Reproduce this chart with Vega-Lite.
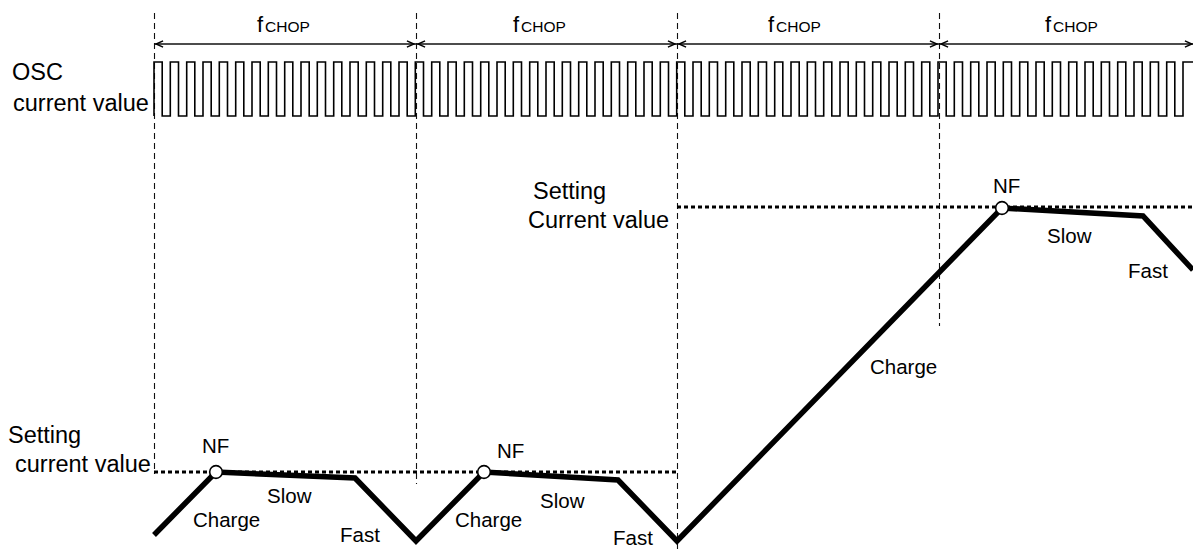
{
  "$schema": "https://vega.github.io/schema/vega-lite/v6.json",
  "width": 1193,
  "height": 550,
  "padding": 0,
  "autosize": {"type": "none"},
  "background": "white",
  "config": {"view": {"stroke": null}},
  "datasets": {
    "wave": [
      {"x":154,"y":116},{"x":154,"y":62},{"x":162.2,"y":116},{"x":170.3,"y":62},{"x":178.5,"y":116},{"x":186.7,"y":62},{"x":194.8,"y":116},{"x":203.0,"y":62},{"x":211.2,"y":116},{"x":219.3,"y":62},{"x":227.5,"y":116},{"x":235.7,"y":62},{"x":243.8,"y":116},{"x":252.0,"y":62},{"x":260.2,"y":116},{"x":268.3,"y":62},{"x":276.5,"y":116},{"x":284.7,"y":62},{"x":292.8,"y":116},{"x":301.0,"y":62},{"x":309.2,"y":116},{"x":317.3,"y":62},{"x":325.5,"y":116},{"x":333.7,"y":62},{"x":341.8,"y":116},{"x":350.0,"y":62},{"x":358.2,"y":116},{"x":366.3,"y":62},{"x":374.5,"y":116},{"x":382.7,"y":62},{"x":390.8,"y":116},{"x":399.0,"y":62},{"x":407.2,"y":116},
      {"x":415.3,"y":62},{"x":423.5,"y":116},{"x":431.7,"y":62},{"x":439.8,"y":116},{"x":448.0,"y":62},{"x":456.2,"y":116},{"x":464.3,"y":62},{"x":472.5,"y":116},{"x":480.7,"y":62},{"x":488.8,"y":116},{"x":497.0,"y":62},{"x":505.2,"y":116},{"x":513.3,"y":62},{"x":521.5,"y":116},{"x":529.7,"y":62},{"x":537.8,"y":116},{"x":546.0,"y":62},{"x":554.2,"y":116},{"x":562.3,"y":62},{"x":570.5,"y":116},{"x":578.7,"y":62},{"x":586.8,"y":116},{"x":595.0,"y":62},{"x":603.2,"y":116},{"x":611.3,"y":62},{"x":619.5,"y":116},{"x":627.7,"y":62},{"x":635.8,"y":116},{"x":644.0,"y":62},{"x":652.2,"y":116},{"x":660.3,"y":62},{"x":668.5,"y":116},
      {"x":676.7,"y":62},{"x":684.8,"y":116},{"x":693.0,"y":62},{"x":701.2,"y":116},{"x":709.3,"y":62},{"x":717.5,"y":116},{"x":725.7,"y":62},{"x":733.8,"y":116},{"x":742.0,"y":62},{"x":750.2,"y":116},{"x":758.3,"y":62},{"x":766.5,"y":116},{"x":774.7,"y":62},{"x":782.8,"y":116},{"x":791.0,"y":62},{"x":799.2,"y":116},{"x":807.3,"y":62},{"x":815.5,"y":116},{"x":823.7,"y":62},{"x":831.8,"y":116},{"x":840.0,"y":62},{"x":848.2,"y":116},{"x":856.3,"y":62},{"x":864.5,"y":116},{"x":872.7,"y":62},{"x":880.8,"y":116},{"x":889.0,"y":62},{"x":897.2,"y":116},{"x":905.3,"y":62},{"x":913.5,"y":116},{"x":921.7,"y":62},{"x":929.8,"y":116},
      {"x":938.0,"y":62},{"x":946.2,"y":116},{"x":954.3,"y":62},{"x":962.5,"y":116},{"x":970.7,"y":62},{"x":978.8,"y":116},{"x":987.0,"y":62},{"x":995.2,"y":116},{"x":1003.3,"y":62},{"x":1011.5,"y":116},{"x":1019.7,"y":62},{"x":1027.8,"y":116},{"x":1036.0,"y":62},{"x":1044.2,"y":116},{"x":1052.3,"y":62},{"x":1060.5,"y":116},{"x":1068.7,"y":62},{"x":1076.8,"y":116},{"x":1085.0,"y":62},{"x":1093.2,"y":116},{"x":1101.3,"y":62},{"x":1109.5,"y":116},{"x":1117.7,"y":62},{"x":1125.8,"y":116},{"x":1134.0,"y":62},{"x":1142.2,"y":116},{"x":1150.3,"y":62},{"x":1158.5,"y":116},{"x":1166.7,"y":62},{"x":1174.8,"y":116},{"x":1183.0,"y":62},{"x":1193,"y":62}
    ],
    "vdash": [
      {"x":154.5,"y":13,"y2":474},
      {"x":416.5,"y":13,"y2":484},
      {"x":677.5,"y":13,"y2":550},
      {"x":939.5,"y":13,"y2":326}
    ],
    "span": [{"x":154,"x2":1193,"y":44}],
    "heads": [
      {"x":156,"y":44,"d":"L"},{"x":414,"y":44,"d":"R"},
      {"x":418,"y":44,"d":"L"},{"x":675,"y":44,"d":"R"},
      {"x":679,"y":44,"d":"L"},{"x":937,"y":44,"d":"R"},
      {"x":941,"y":44,"d":"L"},{"x":1192,"y":44,"d":"R"}
    ],
    "setpoint": [
      {"x":154,"x2":677,"y":472},
      {"x":677,"x2":1193,"y":207}
    ],
    "current": [
      {"x":154,"y":535},{"x":216,"y":472},{"x":355,"y":478},{"x":416,"y":541},
      {"x":484,"y":472},{"x":618,"y":480},{"x":677,"y":541},{"x":1002,"y":208},
      {"x":1143,"y":216},{"x":1193,"y":270}
    ],
    "nf": [{"x":216,"y":472},{"x":484,"y":472},{"x":1002,"y":208}],
    "big": [
      {"x":12,"y":80,"t":"OSC"},
      {"x":13,"y":111,"t":"current value"},
      {"x":8,"y":443,"t":"Setting"},
      {"x":15,"y":472,"t":"current value"},
      {"x":533,"y":199,"t":"Setting"},
      {"x":528,"y":228,"t":"Current value"}
    ],
    "small": [
      {"x":202,"y":453,"t":"NF"},{"x":497,"y":458,"t":"NF"},{"x":993,"y":193,"t":"NF"},
      {"x":193,"y":527,"t":"Charge"},{"x":455,"y":527,"t":"Charge"},{"x":870,"y":374,"t":"Charge"},
      {"x":267,"y":503,"t":"Slow"},{"x":540,"y":508,"t":"Slow"},{"x":1047,"y":243,"t":"Slow"},
      {"x":340,"y":542,"t":"Fast"},{"x":613,"y":545,"t":"Fast"},{"x":1128,"y":278,"t":"Fast"}
    ],
    "f": [{"x":257,"y":32,"t":"f"},{"x":513,"y":32,"t":"f"},{"x":768,"y":32,"t":"f"},{"x":1045,"y":32,"t":"f"}],
    "chop": [{"x":265,"y":32,"t":"CHOP"},{"x":521,"y":32,"t":"CHOP"},{"x":776,"y":32,"t":"CHOP"},{"x":1053,"y":32,"t":"CHOP"}]
  },
  "encoding": {
    "x": {"field": "x", "type": "quantitative", "scale": {"domain": [0, 1193], "nice": false, "zero": false}, "axis": null},
    "y": {"field": "y", "type": "quantitative", "scale": {"domain": [0, 550], "reverse": true, "nice": false, "zero": false}, "axis": null}
  },
  "layer": [
    {
      "data": {"name": "vdash"},
      "mark": {"type": "rule", "strokeDash": [6, 4], "strokeWidth": 1.1, "color": "#111"},
      "encoding": {"y2": {"field": "y2"}}
    },
    {
      "data": {"name": "span"},
      "mark": {"type": "rule", "strokeWidth": 1.3, "color": "#111"},
      "encoding": {"x2": {"field": "x2"}}
    },
    {
      "data": {"name": "heads"},
      "mark": {"type": "point", "filled": false, "size": 200, "strokeWidth": 1.4, "color": "#000", "opacity": 1},
      "encoding": {
        "shape": {"field": "d", "type": "nominal", "legend": null,
          "scale": {"domain": ["L", "R"], "range": ["M 1 -0.45 L 0 0 L 1 0.45", "M -1 -0.45 L 0 0 L -1 0.45"]}}
      }
    },
    {
      "data": {"name": "wave"},
      "mark": {"type": "line", "interpolate": "step-after", "strokeWidth": 1.6, "color": "#000"},
      "encoding": {"order": {"value": null}}
    },
    {
      "data": {"name": "setpoint"},
      "mark": {"type": "rule", "strokeDash": [4, 3], "strokeWidth": 3, "color": "#000"},
      "encoding": {"x2": {"field": "x2"}}
    },
    {
      "data": {"name": "current"},
      "mark": {"type": "line", "strokeWidth": 5.5, "color": "#000"},
      "encoding": {"order": {"value": null}}
    },
    {
      "data": {"name": "nf"},
      "mark": {"type": "point", "shape": "circle", "size": 160, "fill": "white", "stroke": "black", "strokeWidth": 1.6, "opacity": 1, "filled": true}
    },
    {
      "data": {"name": "big"},
      "mark": {"type": "text", "align": "left", "baseline": "alphabetic", "font": "Liberation Sans", "fontSize": 23.5, "color": "#000"},
      "encoding": {"text": {"field": "t"}}
    },
    {
      "data": {"name": "small"},
      "mark": {"type": "text", "align": "left", "baseline": "alphabetic", "font": "Liberation Sans", "fontSize": 20.5, "color": "#000"},
      "encoding": {"text": {"field": "t"}}
    },
    {
      "data": {"name": "f"},
      "mark": {"type": "text", "align": "left", "baseline": "alphabetic", "font": "Liberation Sans", "fontSize": 22, "color": "#000"},
      "encoding": {"text": {"field": "t"}}
    },
    {
      "data": {"name": "chop"},
      "mark": {"type": "text", "align": "left", "baseline": "alphabetic", "font": "Liberation Sans", "fontSize": 15.5, "color": "#000"},
      "encoding": {"text": {"field": "t"}}
    }
  ]
}
